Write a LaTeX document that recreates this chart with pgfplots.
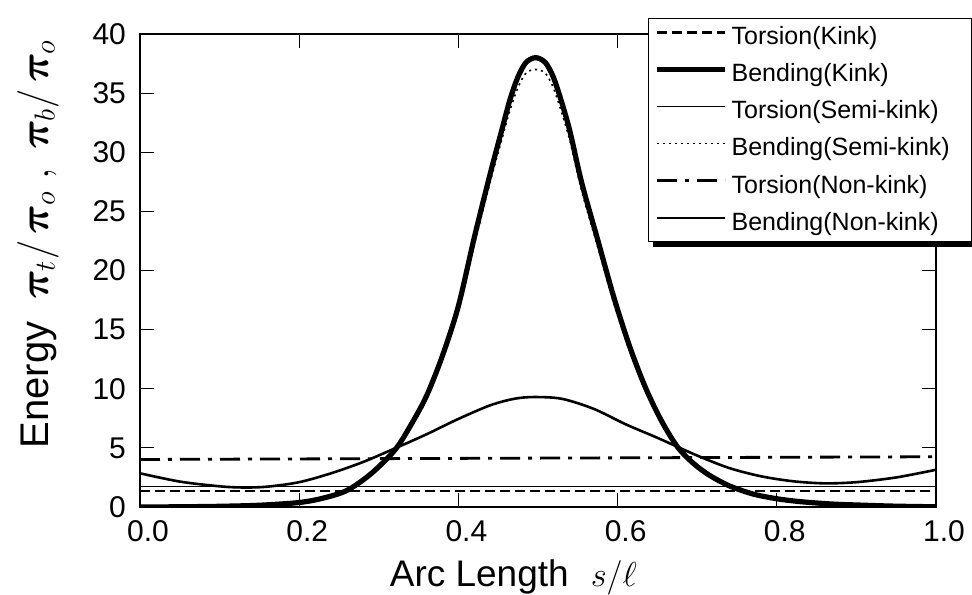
\documentclass[border=0pt]{standalone}
\usepackage{fontspec}
\setmainfont{Liberation Sans}
\usepackage{bm}
\usepackage{pgfplots}
\pgfplotsset{compat=1.18}
\usetikzlibrary{backgrounds}

\begin{document}
\begin{tikzpicture}
\useasboundingbox (-70pt,-43.5pt) rectangle (416pt,253.5pt);
\clip (-70pt,-43.5pt) rectangle (416pt,253.5pt);
\begin{axis}[
  scale only axis, width=398pt, height=236.5pt,
  xmin=0, xmax=1, ymin=0, ymax=40,
  xtick={0,0.2,0.4,0.6,0.8,1},
  xticklabels={0.0,0.2,0.4,0.6,0.8,1.0},
  ytick={0,5,10,15,20,25,30,35,40},
  tick align=inside, major tick length=7pt,
  tick style={black, line width=0.6pt},
  axis line style={line width=0.7pt},
  ticklabel style={font=\fontsize{15}{18}\selectfont},
  /pgf/number format/assume math mode=true,
  xticklabel style={xshift=4pt, yshift=-3pt},
  yticklabel style={xshift=-3.5pt},
  xlabel={Arc Length\hspace{11pt}$s/\ell$},
  ylabel={Energy\hspace{11pt}$\bm{\pi}_t/\,\bm{\pi}_o\;,\;\bm{\pi}_b/\,\bm{\pi}_o$},
  xlabel style={font=\fontsize{18.5}{21}\selectfont, at={(axis description cs:0.469,0)}, anchor=center, yshift=-35pt},
  ylabel style={font=\fontsize{20}{23}\selectfont, at={(axis description cs:-0.128,0.556)}, anchor=center},
  legend cell align=left,
  legend image code/.code={\draw[#1, line cap=butt] (0pt,2.4pt) -- (34pt,2.4pt);},
  legend style={name=leg, at={(0.638,1.034)}, anchor=north west, draw=black, line width=0.6pt,
    fill=white, font=\fontsize{12.5}{15}\selectfont, inner xsep=3pt, inner ysep=2pt,
    row sep=4pt,
    /tikz/every even column/.append style={column sep=3.5pt}},
]
% Torsion (Kink)
\addplot[black, line width=1.4pt, dash pattern=on 5pt off 2.5pt] coordinates {(0,1.35) (1,1.35)};
\addlegendentry{Torsion(Kink)}
% Bending (Kink)
\addplot[black, line width=2.6pt, smooth] coordinates {
(0.00,0.00) (0.05,0.02) (0.10,0.06) (0.15,0.15) (0.20,0.38) (0.23,0.75)
(0.26,1.40) (0.29,2.80) (0.32,4.80) (0.34,6.90) (0.36,9.40) (0.38,12.80)
(0.40,17.00) (0.42,22.80) (0.44,28.20) (0.455,32.00) (0.465,34.50) (0.475,36.40)
(0.485,37.60) (0.497,38.00) (0.509,37.60) (0.519,36.40) (0.529,34.40) (0.54,31.80)
(0.555,27.40) (0.575,22.60) (0.595,17.80) (0.615,13.60) (0.635,10.10) (0.655,7.30)
(0.675,5.10) (0.695,3.70) (0.715,2.70) (0.74,1.80) (0.77,1.10) (0.80,0.70)
(0.83,0.45) (0.87,0.25) (0.91,0.15) (0.95,0.07) (1.00,0.02)};
\addlegendentry{Bending(Kink)}
% Torsion (Semi-kink)
\addplot[black, line width=0.7pt] coordinates {(0,1.72) (1,1.72)};
\addlegendentry{Torsion(Semi-kink)}
% Bending (Semi-kink)
\addplot[black, line width=0.8pt, dash pattern=on 1pt off 2pt, smooth] coordinates {
(0.00,0.00) (0.05,0.02) (0.10,0.06) (0.15,0.15) (0.20,0.37) (0.23,0.73)
(0.26,1.36) (0.29,2.72) (0.32,4.66) (0.34,6.70) (0.36,9.15) (0.38,12.45)
(0.40,16.55) (0.42,22.20) (0.44,27.50) (0.455,31.20) (0.465,33.60) (0.475,35.50)
(0.485,36.70) (0.497,37.00) (0.509,36.70) (0.519,35.50) (0.529,33.50) (0.54,31.00)
(0.555,26.70) (0.575,22.00) (0.595,17.30) (0.615,13.20) (0.635,9.80) (0.655,7.10)
(0.675,4.95) (0.695,3.60) (0.715,2.62) (0.74,1.75) (0.77,1.07) (0.80,0.68)
(0.83,0.44) (0.87,0.24) (0.91,0.15) (0.95,0.07) (1.00,0.02)};
\addlegendentry{Bending(Semi-kink)\rule{6pt}{0pt}}
% Torsion (Non-kink)
\addplot[black, line width=1.4pt, dash pattern=on 10pt off 4pt on 2pt off 4pt] coordinates {(0,4.02) (1,4.25)};
\addlegendentry{Torsion(Non-kink)}
% Bending (Non-kink)
\addplot[black, line width=1.3pt, smooth] coordinates {
(0.00,2.85) (0.05,2.15) (0.10,1.75) (0.13,1.65) (0.16,1.72) (0.20,2.10)
(0.24,2.85) (0.28,3.80) (0.32,4.95) (0.36,6.15) (0.40,7.45) (0.44,8.60)
(0.47,9.15) (0.495,9.30) (0.53,9.15) (0.57,8.30) (0.61,7.00) (0.65,5.85)
(0.70,4.35) (0.74,3.30) (0.78,2.60) (0.82,2.18) (0.86,2.00) (0.90,2.10)
(0.95,2.50) (1.00,3.15)};
\addlegendentry{Bending(Non-kink)}
\end{axis}
\begin{scope}[on background layer]
\fill[black] ([xshift=2.5pt,yshift=-2.5pt]leg.south west) rectangle ([xshift=2.5pt,yshift=-2.5pt]leg.north east);
\end{scope}
\end{tikzpicture}
\end{document}
